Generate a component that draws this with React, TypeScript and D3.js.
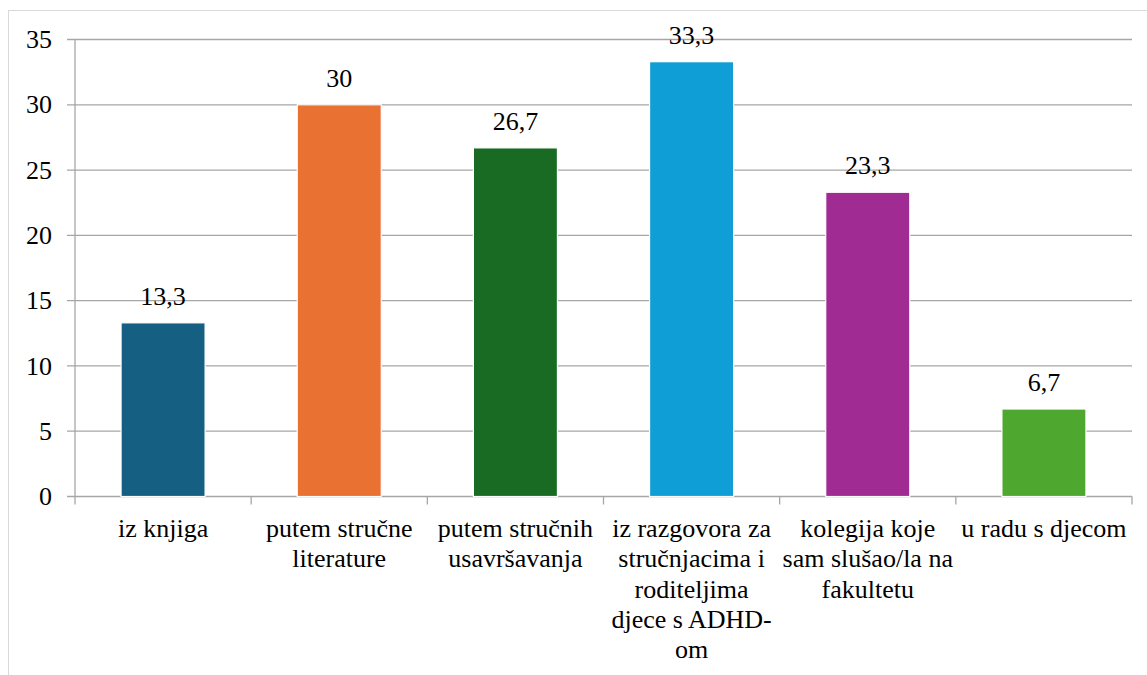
import React, { useEffect, useRef } from "react";
import * as d3 from "d3";

const categories = [
  "iz knjiga",
  "putem stručne literature",
  "putem stručnih usavršavanja",
  "iz razgovora za stručnjacima i roditeljima djece s ADHD-om",
  "kolegija koje sam slušao/la na fakultetu",
  "u radu s djecom",
];
const categoryLines = [
  ["iz knjiga"],
  ["putem stručne", "literature"],
  ["putem stručnih", "usavršavanja"],
  ["iz razgovora za", "stručnjacima i", "roditeljima", "djece s ADHD-", "om"],
  ["kolegija koje", "sam slušao/la na", "fakultetu"],
  ["u radu s djecom"],
];
const values = [13.3, 30, 26.7, 33.3, 23.3, 6.7];
const valueLabels = ["13,3", "30", "26,7", "33,3", "23,3", "6,7"];
const yTicks = [0, 5, 10, 15, 20, 25, 30, 35];
const colors = ["#156082", "#E97132", "#196B24", "#0F9ED5", "#A02B93", "#4EA72E"];

export default function App() {
  const ref = useRef<SVGSVGElement>(null);
  const W = 1147, H = 675;
  useEffect(() => {
    const left = 75, right = 1132, top = 39.5, bottom = 496.5;
    const svg = d3.select(ref.current);
    svg.selectAll("*").remove();
    const x = d3.scaleBand<string>().domain(categories).range([left, right]).padding(0);
    const y = d3.scaleLinear().domain([0, 35]).range([bottom, top]);
    const bw = x.bandwidth();
    const barW = bw * 0.477;
    const grid = "#A6A6A6";
    const FONT = "Times New Roman";

    svg.append("rect").attr("width", W).attr("height", H).attr("fill", "#fff");
    svg.append("rect").attr("x", 8.5).attr("y", 10.5).attr("width", W + 20).attr("height", H + 20)
      .attr("fill", "none").attr("stroke", "#D9D9D9");

    svg.selectAll("line.grid").data(yTicks).join("line")
      .attr("x1", left - 8).attr("x2", right).attr("y1", (d) => y(d)).attr("y2", (d) => y(d))
      .attr("stroke", grid).attr("stroke-width", 1.3);
    svg.append("line").attr("x1", left).attr("x2", left).attr("y1", top).attr("y2", bottom + 8)
      .attr("stroke", grid).attr("stroke-width", 1.3);
    svg.selectAll("line.xt").data(categories).join("line")
      .attr("x1", (d) => (x(d) as number) + bw).attr("x2", (d) => (x(d) as number) + bw)
      .attr("y1", bottom).attr("y2", bottom + 8).attr("stroke", grid).attr("stroke-width", 1.3);

    svg.selectAll("rect.bar").data(categories).join("rect")
      .attr("x", (d) => (x(d) as number) + bw / 2 - barW / 2)
      .attr("y", (d, i) => y(values[i]))
      .attr("width", barW)
      .attr("height", (d, i) => bottom - y(values[i]))
      .attr("fill", (d, i) => colors[i])
      .attr("stroke", "#fff").attr("stroke-width", 1.2);

    const txt = (sel: any) => sel.attr("font-family", FONT).attr("font-size", 26).attr("fill", "#000");

    svg.selectAll("text.yt").data(yTicks).join("text")
      .attr("x", 52).attr("y", (d) => y(d) + 8.6).attr("text-anchor", "end")
      .call(txt).text((d) => String(d));

    svg.selectAll("text.val").data(categories).join("text")
      .attr("x", (d) => (x(d) as number) + bw / 2).attr("y", (d, i) => y(values[i]) - 18)
      .attr("text-anchor", "middle").call(txt).text((d, i) => valueLabels[i]);

    categories.forEach((c, i) => {
      const cx = (x(c) as number) + bw / 2;
      categoryLines[i].forEach((ln, j) => {
        svg.append("text").attr("x", cx).attr("y", 537 + j * 30.3).attr("text-anchor", "middle")
          .call(txt).text(ln);
      });
    });
  }, []);
  return <svg ref={ref} width={W} height={H} style={{ position: "absolute", left: 0, top: 0, display: "block" }} />;
}
